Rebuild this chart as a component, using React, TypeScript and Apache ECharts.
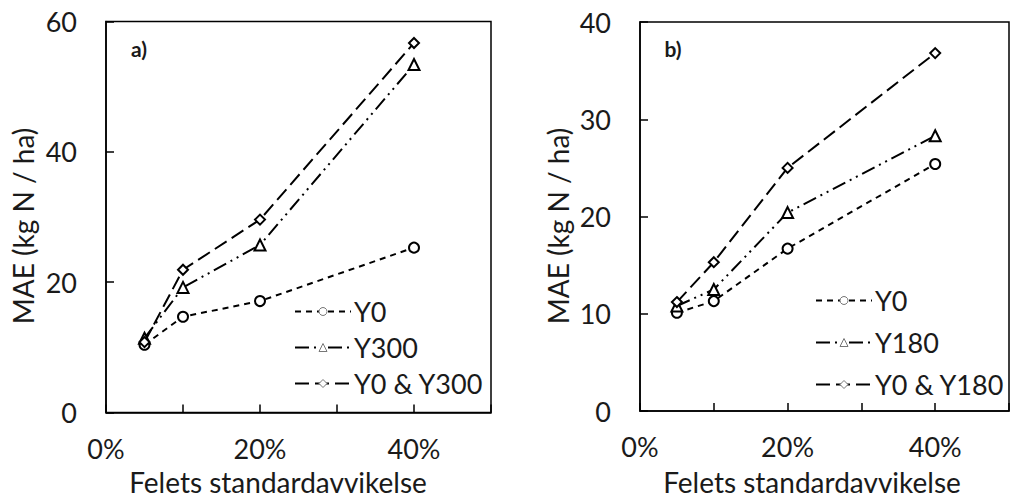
import React, { useEffect, useRef } from "react";
import * as echarts from "echarts";

const xValues = [0.05, 0.1, 0.2, 0.4];
const xTicks = ["0%", "20%", "40%"];

const aNames = ["Y0", "Y300", "Y0 & Y300"];
const aY0 = [10.4, 14.7, 17.1, 25.3];
const aY300 = [11.4, 19.2, 25.7, 53.4];
const aBoth = [10.8, 21.9, 29.6, 56.7];

const bNames = ["Y0", "Y180", "Y0 & Y180"];
const bY0 = [10.1, 11.3, 16.7, 25.4];
const bY180 = [10.8, 12.5, 20.4, 28.3];
const bBoth = [11.2, 15.3, 25.0, 36.8];

const FONT = "Lato, 'Open Sans', sans-serif";
const INK = "#000";
const TXT = "#1a1a1a";

const dashes: Record<string, number[]> = {
  short: [6, 5],
  dashDotDot: [14, 5, 2, 5, 2, 5],
  long: [14, 6],
};
const symbols = ["circle", "triangle", "diamond"];
const styles = ["short", "dashDotDot", "long"];

function makeSeries(name: string, ys: number[], idx: number, axis: number) {
  return {
    type: "line",
    name,
    xAxisIndex: axis,
    yAxisIndex: axis,
    data: xValues.map((x, i) => [x, ys[i]]),
    symbol: symbols[idx],
    symbolSize: idx === 1 ? 11 : 10,
    showSymbol: true,
    lineStyle: { color: INK, width: 2, type: dashes[styles[idx]] },
    itemStyle: { color: "#fff", borderColor: INK, borderWidth: 2 },
    z: 3 + idx,
  };
}

export default function App() {
  const ref = useRef<HTMLDivElement>(null);
  useEffect(() => {
    if (!ref.current) return;
    const chart = echarts.init(ref.current, undefined, { renderer: "svg" });
    const xAxisBase = (gridIndex: number) => ({
      type: "value",
      gridIndex,
      min: 0,
      max: 0.5,
      interval: 0.1,
      axisLine: { show: true, lineStyle: { color: INK, width: 1.5 } },
      axisTick: { show: true, inside: true, length: 8, lineStyle: { color: INK, width: 1.5 } },
      splitLine: { show: false },
      axisLabel: {
        margin: 22,
        fontSize: 27,
        fontFamily: FONT,
        color: TXT,
        formatter: (v: number) => {
          const k = Math.round(v * 10);
          return k % 2 === 0 && k / 2 < xTicks.length ? xTicks[k / 2] : "";
        },
      },
    });
    const yAxisBase = (gridIndex: number, max: number, interval: number) => ({
      type: "value",
      gridIndex,
      min: 0,
      max,
      interval,
      axisLine: { show: true, lineStyle: { color: INK, width: 1.5 } },
      axisTick: { show: true, inside: true, length: 8, lineStyle: { color: INK, width: 1.5 } },
      splitLine: { show: false },
      axisLabel: { margin: 29, fontSize: 27, fontFamily: FONT, color: TXT },
    });
    const legendBase = (data: string[], left: number, top: number, gap: number) => ({
      data,
      left,
      top,
      orient: "vertical",
      itemWidth: 56,
      itemHeight: 10,
      itemGap: gap,
      selectedMode: false,
      textStyle: { fontSize: 27, fontFamily: FONT, color: TXT, padding: [0, 0, 0, -2] },
      itemStyle: { color: "#fff", borderColor: "#777", borderWidth: 1 },
    });
    const textEl = (text: string, x: number, y: number, rot = 0, size = 28, weight = "normal") => ({
      type: "text",
      x,
      y,
      rotation: rot,
      style: {
        text,
        fontSize: size,
        fontFamily: FONT,
        fontWeight: weight,
        fill: TXT,
        textAlign: "center",
        textVerticalAlign: "middle",
      },
    });
    chart.setOption({
      animation: false,
      backgroundColor: "#fff",
      grid: [
        { left: 106, top: 21.5, width: 385, height: 391, show: true, borderColor: INK, borderWidth: 1.5, backgroundColor: "transparent" },
        { left: 640, top: 22, width: 385, height: 389, show: true, borderColor: INK, borderWidth: 1.5, backgroundColor: "transparent" },
      ],
      xAxis: [xAxisBase(0), xAxisBase(1)],
      yAxis: [yAxisBase(0, 60, 20), yAxisBase(1, 40, 10)],
      legend: [legendBase(aNames, 289, 293, 9), legendBase(bNames, 810, 282, 15)],
      series: [
        makeSeries(aNames[0], aY0, 0, 0),
        makeSeries(aNames[1], aY300, 1, 0),
        makeSeries(aNames[2], aBoth, 2, 0),
        makeSeries(bNames[0], bY0, 0, 1),
        makeSeries(bNames[1], bY180, 1, 1),
        makeSeries(bNames[2], bBoth, 2, 1),
      ],
      graphic: [
        textEl("MAE (kg N / ha)", 23, 226, Math.PI / 2),
        textEl("MAE (kg N / ha)", 558, 226, Math.PI / 2),
        textEl("Felets standardavvikelse", 278, 482),
        textEl("Felets standardavvikelse", 812, 482),
        textEl("a)", 139, 48, 0, 21, "bold"),
        textEl("b)", 673, 48, 0, 21, "bold"),
      ],
    });
    return () => chart.dispose();
  }, []);
  return (
    <div
      ref={ref}
      style={{ position: "fixed", left: 0, top: 0, width: 1012, height: 498, background: "#fff" }}
    />
  );
}
